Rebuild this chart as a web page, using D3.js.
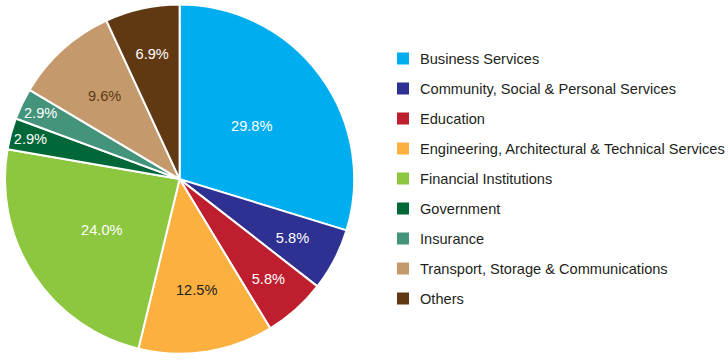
<!DOCTYPE html>
<html><head><meta charset="utf-8">
<script src="https://cdn.jsdelivr.net/npm/d3@7"></script>
<style>
html,body{margin:0;padding:0;background:#fff;}
svg{display:block;font-family:"Liberation Sans",Arial,sans-serif;}
</style></head>
<body>
<svg id="chart" width="728" height="360"></svg>
<script>
const categories = ["Business Services","Community, Social & Personal Services","Education","Engineering, Architectural & Technical Services","Financial Institutions","Government","Insurance","Transport, Storage & Communications","Others"];
const values = [29.8, 5.8, 5.8, 12.5, 24.0, 2.9, 2.9, 9.6, 6.9];
const colors = ["#00AEEF","#2E3192","#BE1E2D","#FBB040","#8DC63F","#006838","#43947A","#C49A6C","#603913"];
const labelColors = ["#fff","#fff","#fff","#231F20","#fff","#fff","#fff","#603913","#fff"];

const svg = d3.select("#chart");
const cx = 179.6, cy = 179.1, R = 174.6;
const data = categories.map((c,i)=>({name:c, value:values[i], color:colors[i], lc:labelColors[i]}));
const pie = d3.pie().value(d=>d.value).sort(null);
const arcs = pie(data);
const arc = d3.arc().innerRadius(0).outerRadius(R);
const g = svg.append("g").attr("transform",`translate(${cx},${cy})`);
g.selectAll("path").data(arcs).join("path")
  .attr("d",arc).attr("fill",d=>d.data.color)
  .attr("stroke","#fff").attr("stroke-width",2).attr("stroke-linejoin","round");

const fmt = d3.format(".1f");
const pad = 2;
g.selectAll("text.lbl").data(arcs).join("text")
  .attr("class","lbl")
  .attr("text-anchor","middle").attr("dominant-baseline","central")
  .attr("font-size","14.6px").attr("fill",d=>d.data.lc)
  .text(d=>fmt(d.data.value)+"%")
  .each(function(d){
    const w = this.getComputedTextLength(), h = 15;
    const hw = w/2, hh = h/2;
    const a0 = d.startAngle, a1 = d.endAngle, m = (a0+a1)/2;
    const corners = (dist)=>{
      const x = dist*Math.sin(m), y = -dist*Math.cos(m);
      return [[x-hw,y-hh],[x+hw,y-hh],[x-hw,y+hh],[x+hw,y+hh]];
    };
    const inCircle = (dist)=>corners(dist).every(([px,py])=>Math.hypot(px,py)<=R-pad);
    const fits = (dist)=>corners(dist).every(([px,py])=>{
        const s = px*Math.cos(a0)+py*Math.sin(a0);
        const e = -(px*Math.cos(a1)+py*Math.sin(a1));
        return s>=pad && e>=pad && Math.hypot(px,py)<=R-pad;
      });
    let lo=null, hi=null, outer=0;
    for(let t=0;t<=R;t+=0.5){
      if(inCircle(t)) outer=t;
      if(fits(t)){ if(lo===null) lo=t; hi=t; }
    }
    const dd = lo===null ? outer : (lo+hi)/2;
    d3.select(this).attr("x",dd*Math.sin(m)).attr("y",-dd*Math.cos(m));
  });

const leg = svg.append("g").attr("transform","translate(397,59)");
const row = leg.selectAll("g").data(data).join("g").attr("transform",(d,i)=>`translate(0,${i*30})`);
row.append("rect").attr("x",0).attr("y",-6.5).attr("width",12).attr("height",12).attr("fill",d=>d.color);
row.append("text").attr("x",23).attr("y",0).attr("dominant-baseline","central")
  .attr("font-size","14.6px").attr("fill","#231F20").text(d=>d.name);
</script>
</body></html>
